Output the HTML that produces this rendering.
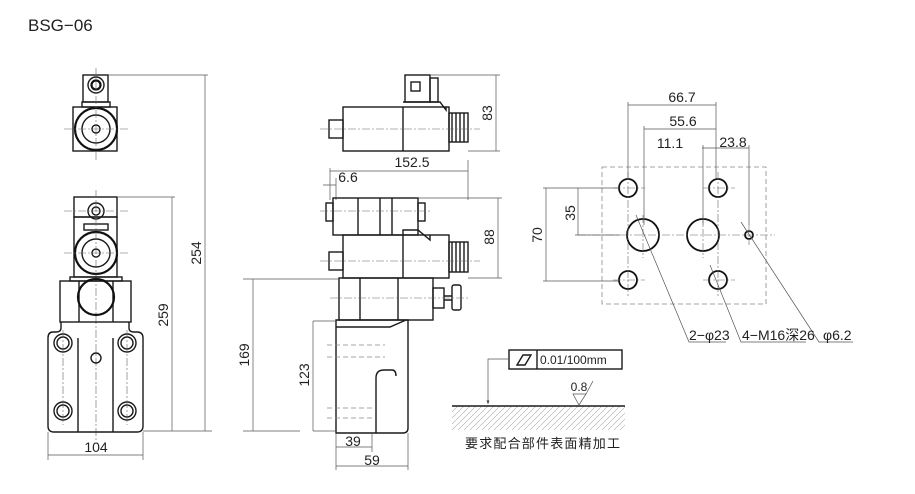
<!DOCTYPE html>
<html><head><meta charset="utf-8"><style>
html,body{margin:0;padding:0;background:#fff;}
svg{display:block;font-family:"Liberation Sans","Noto Sans CJK SC",sans-serif;}
.o{fill:none;stroke:#1a1a1a;stroke-width:1.4}
.t{fill:none;stroke:#111;stroke-width:2.2}
.d{fill:none;stroke:#555;stroke-width:0.7}
.c{fill:none;stroke:#666;stroke-width:0.6;stroke-dasharray:8 2 2 2}
.h{fill:none;stroke:#888;stroke-width:0.8;stroke-dasharray:5 3}
text{fill:#222;font-size:14px}
</style></head><body>
<svg width="915" height="494" viewBox="0 0 915 494" xmlns="http://www.w3.org/2000/svg">
<defs><pattern id="hp" width="6" height="6" patternUnits="userSpaceOnUse"><path d="M0 6 L6 0" stroke="#aaa" stroke-width="0.6"/></pattern>
<marker id="a" markerWidth="6" markerHeight="6" refX="5" refY="3" orient="auto"><path d="M0 1 L5 3 L0 5z" fill="#333"/></marker></defs>
<text x="28" y="31" style="font-size:17px">BSG−06</text>

<!-- LEFT VIEW -->
<rect class="o" x="83" y="75" width="25" height="27"/>
<circle class="o" cx="96" cy="85" r="8"/><circle class="t" cx="96" cy="85" r="4.5"/>
<rect class="o" x="82" y="102" width="28" height="5"/>
<rect class="o" x="73" y="107" width="44" height="44"/>
<circle class="t" cx="96" cy="129" r="21"/><circle class="o" cx="96" cy="129" r="14"/><circle class="o" cx="96" cy="129" r="4"/>
<path class="c" d="M96 68V160M64 129H128"/>
<path class="d" d="M108 75H208M205 75V431"/>
<text transform="translate(201,253) rotate(-90)" text-anchor="middle">254</text>

<rect class="o" x="74" y="197" width="43" height="20"/>
<circle class="o" cx="96" cy="211" r="8"/><circle class="o" cx="96" cy="211" r="4"/>
<rect class="o" x="74" y="217" width="43" height="60"/>
<rect class="o" x="84" y="224" width="24" height="6"/>
<circle class="t" cx="96" cy="253" r="21"/><circle class="o" cx="96" cy="253" r="14"/><circle class="o" cx="96" cy="253" r="4"/>
<path class="c" d="M96 190V440M64 253H128M64 211H128"/>
<rect class="o" x="70" y="277" width="52" height="4"/>
<rect class="o" x="60" y="281" width="71" height="41"/>
<path class="o" d="M79 281V322M113 281V322"/>
<circle class="t" cx="96" cy="297" r="18"/>
<path class="o" d="M61 322V328Q61 332 56 332H53Q48 332 48 338V426Q48 432 54 432H137Q143 432 143 426V338Q143 332 137 332H134Q129 332 129 328V322"/>
<path class="o" d="M78 338V432M113 338V432"/>
<g class="o"><circle cx="63" cy="343" r="9"/><circle cx="63" cy="343" r="6"/><circle cx="127" cy="343" r="9"/><circle cx="127" cy="343" r="6"/>
<circle cx="63" cy="411" r="9"/><circle cx="63" cy="411" r="6"/><circle cx="127" cy="411" r="9"/><circle cx="127" cy="411" r="6"/>
<circle cx="96" cy="358" r="5"/></g>
<path class="c" d="M63 330V425M127 330V425"/>
<path class="d" d="M117 197H175M172 197V431M143 431H212M48 432V460M143 432V460M48 455H143"/>
<text transform="translate(168,315) rotate(-90)" text-anchor="middle">259</text>
<text x="96" y="452" text-anchor="middle">104</text>

<!-- MIDDLE VIEW -->
<rect class="o" x="329" y="120" width="14" height="18"/>
<rect class="o" x="343" y="107" width="106" height="44"/>
<path class="o" d="M403 107V151M403 102H440L446 110V107"/>
<rect class="o" x="405" y="75" width="25" height="27"/>
<rect class="o" x="411" y="82" width="9" height="9"/>
<rect class="o" x="430" y="78" width="8" height="24"/>
<rect class="o" x="449" y="113" width="19" height="29"/>
<path class="o" d="M452 113V142M456 113V142M460 113V142M464 113V142"/>
<path class="c" d="M320 129H480"/>
<path class="d" d="M430 75H500M496 75V151M468 151H500"/>
<text transform="translate(492,113) rotate(-90)" text-anchor="middle">83</text>
<path class="d" d="M330 168V200M468 160V200M330 171H468M323 185H336M336 178V200"/>
<text x="412" y="167" text-anchor="middle">152.5</text>
<text x="348" y="182" text-anchor="middle">6.6</text>

<rect class="o" x="333" y="198" width="85" height="37"/>
<path class="o" d="M358 198V235M380 198V235M392 198V235"/>
<rect class="o" x="326" y="203" width="7" height="18"/><rect class="o" x="418" y="203" width="7" height="18"/>
<rect class="o" x="343" y="235" width="106" height="43"/>
<path class="o" d="M403 235V278M403 235V230H418L430 240V235"/>
<rect class="o" x="329" y="252" width="14" height="18"/>
<rect class="o" x="449" y="242" width="19" height="30"/>
<path class="o" d="M452 242V272M456 242V272M460 242V272M464 242V272"/>
<path class="c" d="M320 211H430M320 261H480"/>
<path class="d" d="M418 198H502M498 198V278M468 278H502"/>
<text transform="translate(494,237) rotate(-90)" text-anchor="middle">88</text>

<rect class="o" x="339" y="278" width="94" height="42"/>
<path class="o" d="M360 278V320M398 278V320"/>
<rect class="o" x="433" y="288" width="11" height="20"/>
<path class="o" d="M444 296H452M444 300H452"/>
<rect class="o" x="452" y="285" width="9" height="25" rx="2"/>
<path class="c" d="M330 298H470"/>
<path class="o" d="M336 320H408V428Q408 433 403 433H336Z"/>
<path class="o" d="M336 327H390L406 320M376 433V378Q376 370 384 370H392Q396 370 396 376"/>
<path class="h" d="M327 345H385M327 357H385M327 408H375M327 418H375"/>
<path class="d" d="M243 279H339M253 279V431M243 431H300M313 321H336M313 321V431M313 431H336M336 433V470M372 433V452M408 433V470M336 447H372M336 466H408"/>
<text transform="translate(249,355) rotate(-90)" text-anchor="middle">169</text>
<text transform="translate(309,375) rotate(-90)" text-anchor="middle">123</text>
<text x="353" y="446" text-anchor="middle">39</text>
<text x="372" y="465" text-anchor="middle">59</text>

<!-- RIGHT VIEW -->
<rect class="h" x="602" y="167" width="164" height="137"/>
<g class="t" style="stroke-width:1.8"><circle cx="628" cy="188" r="9"/><circle cx="718" cy="188" r="9"/><circle cx="628" cy="280" r="9"/><circle cx="718" cy="280" r="9"/>
<circle cx="643" cy="235" r="16"/><circle cx="703" cy="235" r="16"/><circle cx="749" cy="235" r="4"/></g>
<path class="c" d="M578 235H775M613 188H645M703 188H735M613 280H645M703 280H735M628 172V296M718 172V296M643 215V258M703 215V258M749 225V245"/>
<path class="d" d="M628 102V178M716 102V178M628 105H716M644 126V225M644 129H716M703 145V225M749 145V225M702 148H749"/>
<path class="d" d="M543 188H618M543 281H618M546 188V281M575 235H620M578 188V235"/>
<text x="682" y="102" text-anchor="middle">66.7</text>
<text x="683" y="126" text-anchor="middle">55.6</text>
<text x="670" y="148" text-anchor="middle">11.1</text>
<text x="733" y="147" text-anchor="middle">23.8</text>
<text transform="translate(542,235) rotate(-90)" text-anchor="middle">70</text>
<text transform="translate(575,213) rotate(-90)" text-anchor="middle">35</text>
<path class="d" d="M636 215L689 342H726M710 265L741 342H806M741 222L819 342H853"/>
<text x="689" y="340">2−φ23</text>
<text x="742" y="340">4−M16深26</text>
<text x="823" y="340">φ6.2</text>

<!-- BOTTOM -->
<rect class="o" x="509" y="350" width="113" height="19"/>
<path class="o" d="M537 350V369M517 365L523 355H531L525 365Z"/>
<text x="540" y="364" style="font-size:12px">0.01/100mm</text>
<path class="d" d="M509 359H488V404" marker-end="url(#a)"/>
<rect x="452" y="406" width="173" height="24" fill="url(#hp)"/>
<path class="o" d="M452 406H625"/>
<path class="d" d="M573 394H586L579 405ZM586 394L593 381"/>
<text x="579" y="391" text-anchor="middle" style="font-size:12px">0.8</text>
<text x="465" y="448" style="font-size:13px;letter-spacing:1.2px">要求配合部件表面精加工</text>
</svg>
</body></html>
